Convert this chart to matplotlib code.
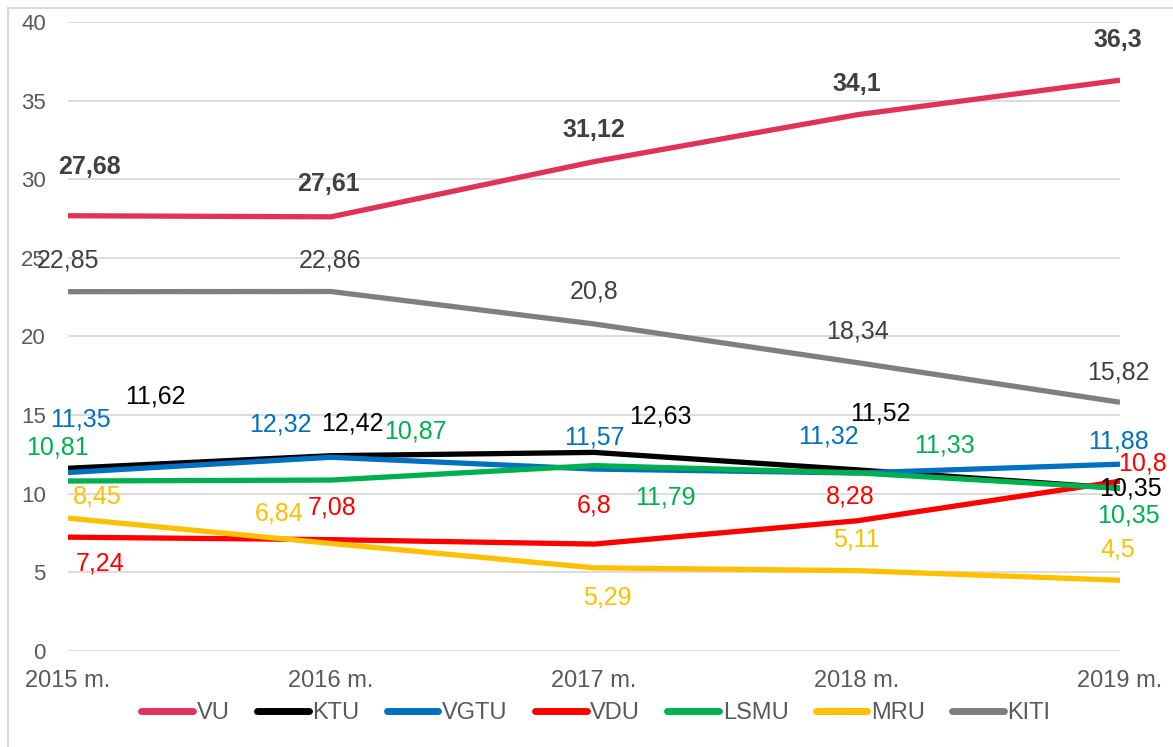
import matplotlib.pyplot as plt
from matplotlib.patches import Rectangle

plt.rcParams['font.family'] = ['Liberation Sans', 'DejaVu Sans']

# data
years = ['2015 m.', '2016 m.', '2017 m.', '2018 m.', '2019 m.']
vu = [27.68, 27.61, 31.12, 34.1, 36.3]
ktu = [11.62, 12.42, 12.63, 11.52, 10.35]
vgtu = [11.35, 12.32, 11.57, 11.32, 11.88]
vdu = [7.24, 7.08, 6.8, 8.28, 10.8]
lsmu = [10.81, 10.87, 11.79, 11.33, 10.35]
mru = [8.45, 6.84, 5.29, 5.11, 4.5]
kiti = [22.85, 22.86, 20.8, 18.34, 15.82]

series = [
    ('VU', vu, '#E0335A'),
    ('KTU', ktu, '#000000'),
    ('VGTU', vgtu, '#0070C0'),
    ('VDU', vdu, '#FF0000'),
    ('LSMU', lsmu, '#00B050'),
    ('MRU', mru, '#FFC000'),
    ('KITI', kiti, '#7F7F7F'),
]

# label offsets in pixels (dx, dy up)
offsets = {
    'VU':   [(21, 49), (-2, 33), (0, 32), (0, 31), (-2, 40)],
    'KTU':  [(87, 72), (21, 32), (66, 36), (23, 56), (10, 0)],
    'VGTU': [(12, 53), (-51, 33), (0, 32), (-29, 36), (-2, 23)],
    'VDU':  [(32, -26), (1, 32), (0, 39), (-7, 24), (23, 18)],
    'LSMU': [(-11, 34), (84, 49), (71, -32), (88, 27), (8, -27)],
    'MRU':  [(29, 22), (-52, 30), (13, -30), (-1, 31), (-2, 31)],
    'KITI': [(0, 31), (-1, 31), (0, 32), (0, 31), (-2, 30)],
}

fig = plt.figure(figsize=(11.73, 7.47), dpi=100)
ax = fig.add_axes([68 / 1173, 1 - 651 / 747, (1120 - 68) / 1173, (651 - 22) / 747])

# chart frame
fig.patches.append(Rectangle((8 / 1173, -0.05), 1.2, 1 - 8 / 747 + 0.05,
                             transform=fig.transFigure, fill=False,
                             edgecolor='#D9D9D9', linewidth=1.5))

x = list(range(len(years)))
for name, vals, col in series:
    ax.plot(x, vals, color=col, linewidth=3.8, label=name,
            solid_capstyle='butt', solid_joinstyle='miter')
    weight = 'bold' if name == 'VU' else 'normal'
    tcol = '#404040' if name in ('VU', 'KITI') else col
    for i, v in enumerate(vals):
        dx, dy = offsets[name][i]
        ax.annotate(f'{v:g}'.replace('.', ','), (i, v), xytext=(dx, dy),
                    textcoords='offset pixels', ha='center', va='center',
                    fontsize=18, color=tcol, fontweight=weight,
                    annotation_clip=False)

ax.set_xlim(0, 4)
ax.set_ylim(0, 40)
ax.set_yticks(range(0, 41, 5))
ax.set_xticks(x)
ax.set_xticklabels(years)
ax.grid(axis='y', color='#D9D9D9', linewidth=1.3)
ax.set_axisbelow(True)
for s in ax.spines.values():
    s.set_visible(False)
ax.tick_params(length=0, labelsize=16, labelcolor='#595959')
ax.tick_params(axis='x', labelsize=17, pad=14)
ax.tick_params(axis='y', pad=16)

leg = fig.legend(loc='center', bbox_to_anchor=(0.508, 0.0455), ncol=7,
                 frameon=False, fontsize=17, handlelength=2.2,
                 handletextpad=0.15, columnspacing=1.15)
for t in leg.get_texts():
    t.set_color('#595959')
for h in leg.get_lines():
    h.set_solid_capstyle('round')
    h.set_linewidth(5)

fig.savefig('out.png', dpi=100)
